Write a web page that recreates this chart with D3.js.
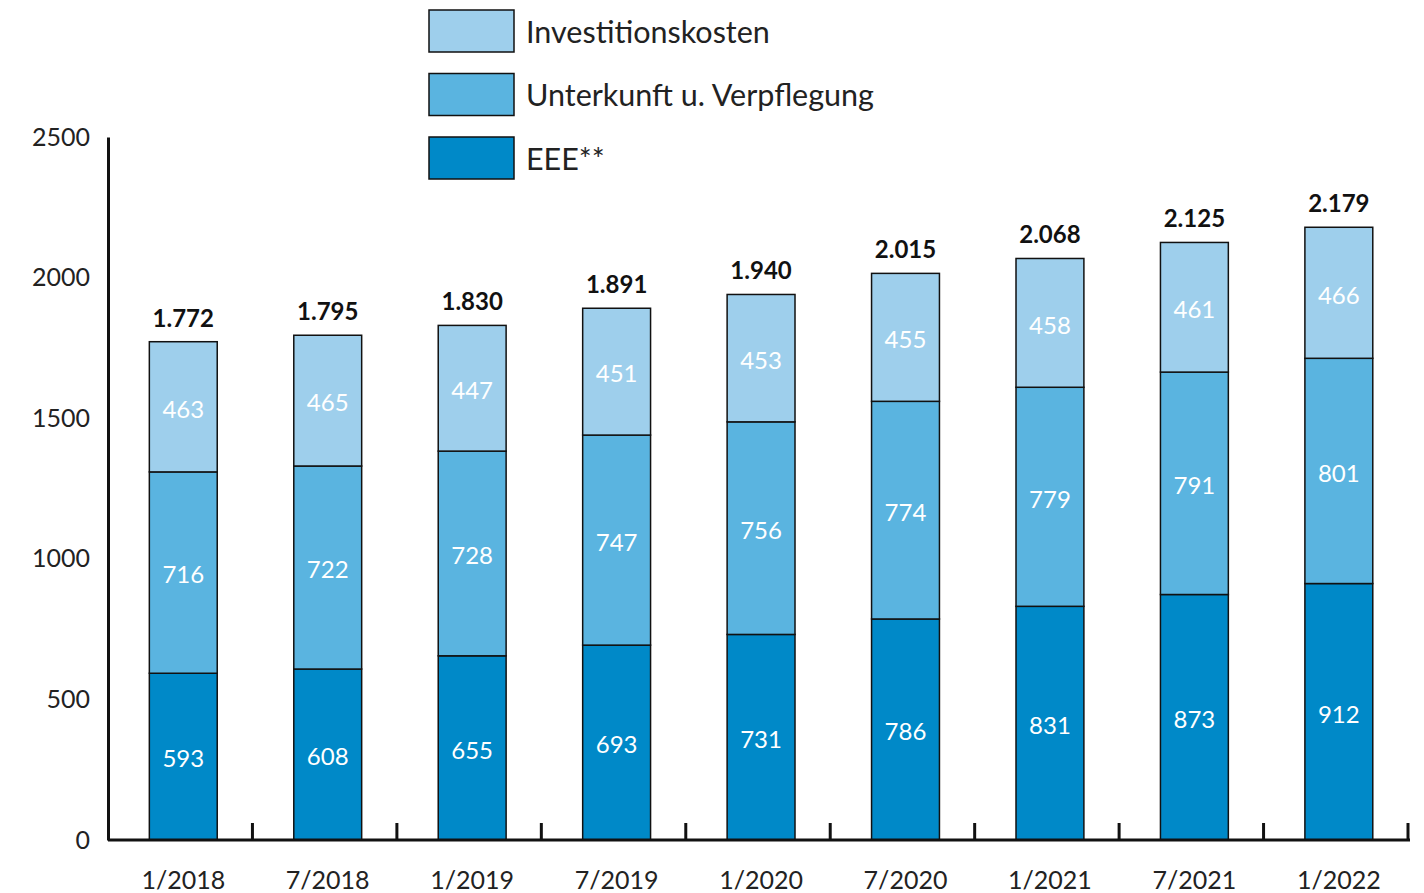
<!DOCTYPE html>
<html>
<head>
<meta charset="utf-8">
<script src="https://cdn.jsdelivr.net/npm/d3@7"></script>
<style>
  body { margin: 0; background: #fff; }
  svg { font-family: Lato, "Noto Sans", sans-serif; }
</style>
</head>
<body>
<svg id="chart" width="1424" height="893"></svg>
<script>
// Data
const periods = ['1/2018', '7/2018', '1/2019', '7/2019', '1/2020', '7/2020', '1/2021', '7/2021', '1/2022'];
const eee = [593, 608, 655, 693, 731, 786, 831, 873, 912];
const unterkunft = [716, 722, 728, 747, 756, 774, 779, 791, 801];
const investition = [463, 465, 447, 451, 453, 455, 458, 461, 466];
const totalLabels = ['1.772', '1.795', '1.830', '1.891', '1.940', '2.015', '2.068', '2.125', '2.179'];
const yTicks = [0, 500, 1000, 1500, 2000, 2500];

const seriesNames = ['EEE**', 'Unterkunft u. Verpflegung', 'Investitionskosten'];
const colors = ['#0089c8', '#5ab4e0', '#9ecfec'];

const svg = d3.select('#chart');
const plotLeft = 108, plotRight = 1408, plotTop = 137, plotBottom = 840;

const x = d3.scaleBand().domain(periods).range([plotLeft, plotRight])
  .paddingInner(0.53).paddingOuter(0.265).align(0.54);
const y = d3.scaleLinear().domain([0, 2500]).range([plotBottom, plotTop]);

const rows = periods.map((p, i) => ({ period: p, eee: eee[i], unterkunft: unterkunft[i], investition: investition[i], total: totalLabels[i] }));
const stacked = d3.stack().keys(['eee', 'unterkunft', 'investition'])(rows);

// bars
const layers = svg.append('g').selectAll('g')
  .data(stacked)
  .join('g')
  .attr('fill', (d, i) => colors[i]);

layers.selectAll('rect')
  .data(d => d)
  .join('rect')
  .attr('x', d => x(d.data.period))
  .attr('width', x.bandwidth())
  .attr('y', d => y(d[1]))
  .attr('height', d => y(d[0]) - y(d[1]))
  .attr('stroke', '#111')
  .attr('stroke-width', 1.5);

// segment labels
layers.selectAll('text')
  .data(d => d)
  .join('text')
  .attr('x', d => x(d.data.period) + x.bandwidth() / 2)
  .attr('y', d => (y(d[0]) + y(d[1])) / 2)
  .attr('dy', '0.45em')
  .attr('text-anchor', 'middle')
  .attr('fill', '#fff')
  .attr('font-size', '24px')
  .text(d => d[1] - d[0]);

// totals
svg.append('g').selectAll('text')
  .data(stacked[2])
  .join('text')
  .attr('x', d => x(d.data.period) + x.bandwidth() / 2)
  .attr('y', d => y(d[1]) - 15)
  .attr('text-anchor', 'middle')
  .attr('font-size', '24px')
  .attr('font-weight', 'bold')
  .attr('fill', '#111')
  .text(d => d.data.total);

// y axis
const yAxis = svg.append('g')
  .attr('transform', `translate(${plotLeft},0)`)
  .call(d3.axisLeft(y).tickValues(yTicks).tickFormat(d3.format('d')).tickSize(0).tickPadding(18));
yAxis.select('.domain').attr('stroke', '#111').attr('stroke-width', 3);
yAxis.selectAll('text').attr('font-size', '25px').attr('fill', '#222').attr('font-family', 'Lato, "Noto Sans", sans-serif');

// x axis
const xAxis = svg.append('g')
  .attr('transform', `translate(0,${plotBottom})`)
  .call(d3.axisBottom(x).tickSize(0).tickPadding(31));
xAxis.select('.domain').attr('d', `M${plotLeft},0H${plotRight + 2}`).attr('stroke', '#111').attr('stroke-width', 3);
xAxis.selectAll('text').attr('font-size', '25px').attr('fill', '#222').attr('dy', '0.71em').attr('font-family', 'Lato, "Noto Sans", sans-serif');

// ticks at band boundaries
const step = x.step();
svg.append('g').selectAll('line')
  .data(periods.map((p, i) => plotLeft + (i + 1) * step))
  .join('line')
  .attr('x1', d => d).attr('x2', d => d)
  .attr('y1', plotBottom - 17).attr('y2', plotBottom)
  .attr('stroke', '#111').attr('stroke-width', 3);

// legend
const legendItems = [2, 1, 0];
const legend = svg.append('g').selectAll('g')
  .data(legendItems)
  .join('g')
  .attr('transform', (d, i) => `translate(429,${10 + i * 63.5})`);
legend.append('rect')
  .attr('width', 85).attr('height', 42)
  .attr('fill', d => colors[d])
  .attr('stroke', '#111').attr('stroke-width', 1.5);
legend.append('text')
  .attr('x', 97).attr('y', 22).attr('dy', '0.35em')
  .attr('font-size', '30.5px').attr('fill', '#222')
  .text(d => seriesNames[d]);
</script>
</body>
</html>
